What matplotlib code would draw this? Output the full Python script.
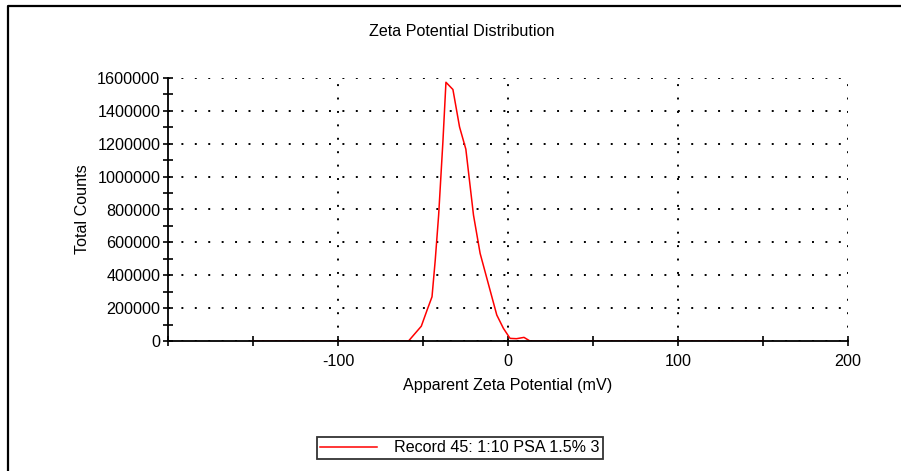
import matplotlib
matplotlib.use('Agg')
import numpy as np
from matplotlib import pyplot as plt
from matplotlib.lines import Line2D
from matplotlib.ticker import MultipleLocator, FormatStrFormatter

plt.rcParams['font.family'] = ['Liberation Sans', 'DejaVu Sans']

# values
zeta_mv = [-150, -58.5, -51.0, -47.6, -44.7, -42.8, -40.8, -38.3, -36.5, -32.4,
           -28.5, -24.8, -20.3, -16.4, -6.6, -2.7, 1.2, 5.0, 9.4, 12.9, 150]
total_counts = [0, 0, 90000, 188000, 269000, 492000, 766000, 1211000, 1574000, 1530000,
                1302000, 1167000, 766000, 533000, 158000, 77000, 16000, 14000, 22000, 0, 0]
record_label = 'Record 45: 1:10 PSA 1.5% 3'

W, H = 901, 471
FS = 11.6
fig = plt.figure(figsize=(W / 100, H / 100), dpi=100)
ax = fig.add_axes([168 / W, 130 / H, 680 / W, 263 / H])

line, = ax.plot(zeta_mv, total_counts, color='red', lw=1.1, label=record_label)

ax.set_xlim(-200, 200)
ax.set_ylim(0, 1600000)
ax.xaxis.set_major_locator(MultipleLocator(100))
ax.xaxis.set_minor_locator(MultipleLocator(50))
ax.yaxis.set_major_locator(MultipleLocator(200000))
ax.yaxis.set_minor_locator(MultipleLocator(100000))
ax.yaxis.set_major_formatter(FormatStrFormatter('%d'))
ax.set_xticks([-100, 0, 100, 200])
ax.set_xticklabels(['-100', '0', '100', '200'])

for side in ('top', 'right'):
    ax.spines[side].set_visible(False)
for side in ('left', 'bottom'):
    ax.spines[side].set_linewidth(1.3)

ax.tick_params(which='both', direction='inout', length=7, width=1.2, labelsize=FS, color='black')
ax.tick_params(axis='x', pad=6)
ax.tick_params(axis='y', pad=2)

dots = (0, (1, 5.9))
ax.grid(True, which='major', color='black', linestyle=dots, lw=1.4)
ax.set_axisbelow(True)

fig.text(462 / W, 1 - 31 / H, 'Zeta Potential Distribution', fontsize=FS, ha='center', va='center')
ax.set_xlabel('Apparent Zeta Potential (mV)', fontsize=FS, labelpad=6)
ax.set_ylabel('Total Counts', fontsize=FS, labelpad=5)

leg = fig.legend(handles=[line], loc='center', bbox_to_anchor=(460 / W, 1 - 448 / H),
                 fontsize=FS, frameon=True, fancybox=False, handlelength=3.5,
                 handletextpad=1.1, borderpad=0.2, borderaxespad=0)
leg.get_frame().set_edgecolor('black')
leg.get_frame().set_linewidth(1.3)

# outer frame of the report page
fig.add_artist(Line2D([8 / W, 8 / W, 1.0], [0.0, 1 - 6 / H, 1 - 6 / H],
                      transform=fig.transFigure, color='black', lw=1.6))

fig.savefig('out.png', dpi=100)
